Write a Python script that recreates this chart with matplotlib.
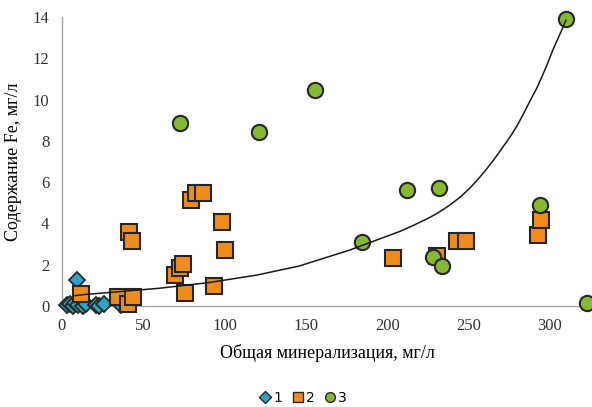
import matplotlib.pyplot as plt
from matplotlib.lines import Line2D

# series 1 (diamonds)
x1 = [3, 5, 7, 8, 9, 10, 13, 15, 21, 23, 26, 36]
y1 = [0.05, 0.1, 0.0, 0.15, 1.25, 0.05, 0.0, 0.1, 0.05, 0.0, 0.1, 0.05]

# series 2 (squares)
x2 = [12, 34.5, 40.5, 43.8, 41.4, 42.8, 69.5, 72.5, 74.4, 75.5, 79.6, 82.4, 86.8,
      93.8, 98.6, 100.5, 203.5, 230.5, 242.8, 248.3, 293, 294.4]
y2 = [0.6, 0.42, 0.1, 0.42, 3.6, 3.15, 1.5, 1.82, 2.05, 0.63, 5.14, 5.48, 5.48,
      0.97, 4.07, 2.7, 2.32, 2.42, 3.15, 3.15, 3.44, 4.17]

# series 3 (circles)
x3 = [72.5, 121, 155.5, 184.4, 212, 228, 231.7, 234, 293.8, 309.8, 322.7]
y3 = [8.87, 8.43, 10.47, 3.1, 5.62, 2.37, 5.72, 1.94, 4.89, 13.9, 0.14]

# trend line
xt = [8, 13, 30, 60, 90, 120, 146, 177, 208, 216, 226, 232, 238, 245, 251, 256, 261,
      266, 271, 276, 280, 284, 288, 292, 295, 298, 300, 302, 305, 307, 310]
yt = [0.5, 0.55, 0.66, 0.86, 1.13, 1.5, 1.94, 2.71, 3.62, 3.9, 4.28, 4.55, 4.86, 5.28,
      5.72, 6.15, 6.62, 7.13, 7.68, 8.24, 8.75, 9.33, 9.96, 10.55, 11.08, 11.62, 12.02,
      12.42, 12.95, 13.3, 13.85]

xticks = [0, 50, 100, 150, 200, 250, 300]
yticks = [0, 2, 4, 6, 8, 10, 12, 14]

plt.rcParams['font.family'] = 'Liberation Serif'

fig = plt.figure(figsize=(5.92, 4.07), dpi=100)
ax = fig.add_axes([0.1047, 0.2482, 0.8953, 0.7098])

edge = '#262626'
ax.plot(x1, y1, linestyle='none', marker='D', ms=8, mfc='#2fa3c4', mec=edge, mew=1.3,
        zorder=3, clip_on=False)
ax.plot(x2, y2, linestyle='none', marker='s', ms=12, mfc='#f08c1c', mec=edge, mew=1.5,
        zorder=4, clip_on=False)
ax.plot(x3, y3, linestyle='none', marker='o', ms=11, mfc='#86b832', mec=edge, mew=1.5,
        zorder=5, clip_on=False)
ax.plot(xt, yt, color='#1a1a1a', lw=1.1, zorder=6)

ax.set_xlim(0, 326)
ax.set_ylim(0, 14)
ax.set_xticks(xticks)
ax.set_yticks(yticks)
ax.tick_params(length=0, labelsize=12, colors='#333333', pad=9)

for s in ['top', 'right']:
    ax.spines[s].set_visible(False)
for s in ['left', 'bottom']:
    ax.spines[s].set_color('#a6a6a6')
    ax.spines[s].set_linewidth(1)

ax.set_xlabel('Общая минерализация, мг/л', fontsize=13, labelpad=7)
ax.set_ylabel('Содержание Fe, мг/л', fontsize=13, labelpad=8)

handles = [
    Line2D([], [], linestyle='none', marker='D', ms=6, mfc='#2fa3c4', mec=edge, mew=1),
    Line2D([], [], linestyle='none', marker='s', ms=7, mfc='#f08c1c', mec=edge, mew=1),
    Line2D([], [], linestyle='none', marker='o', ms=7, mfc='#86b832', mec=edge, mew=1),
]
fig.legend(handles, ['1', '2', '3'], loc='center', bbox_to_anchor=(0.51, 0.022), ncol=3,
           frameon=False, handletextpad=0.0, columnspacing=0.5, handlelength=1.2,
           prop={'family': 'DejaVu Sans', 'size': 10})

fig.savefig('out.png', dpi=100)
